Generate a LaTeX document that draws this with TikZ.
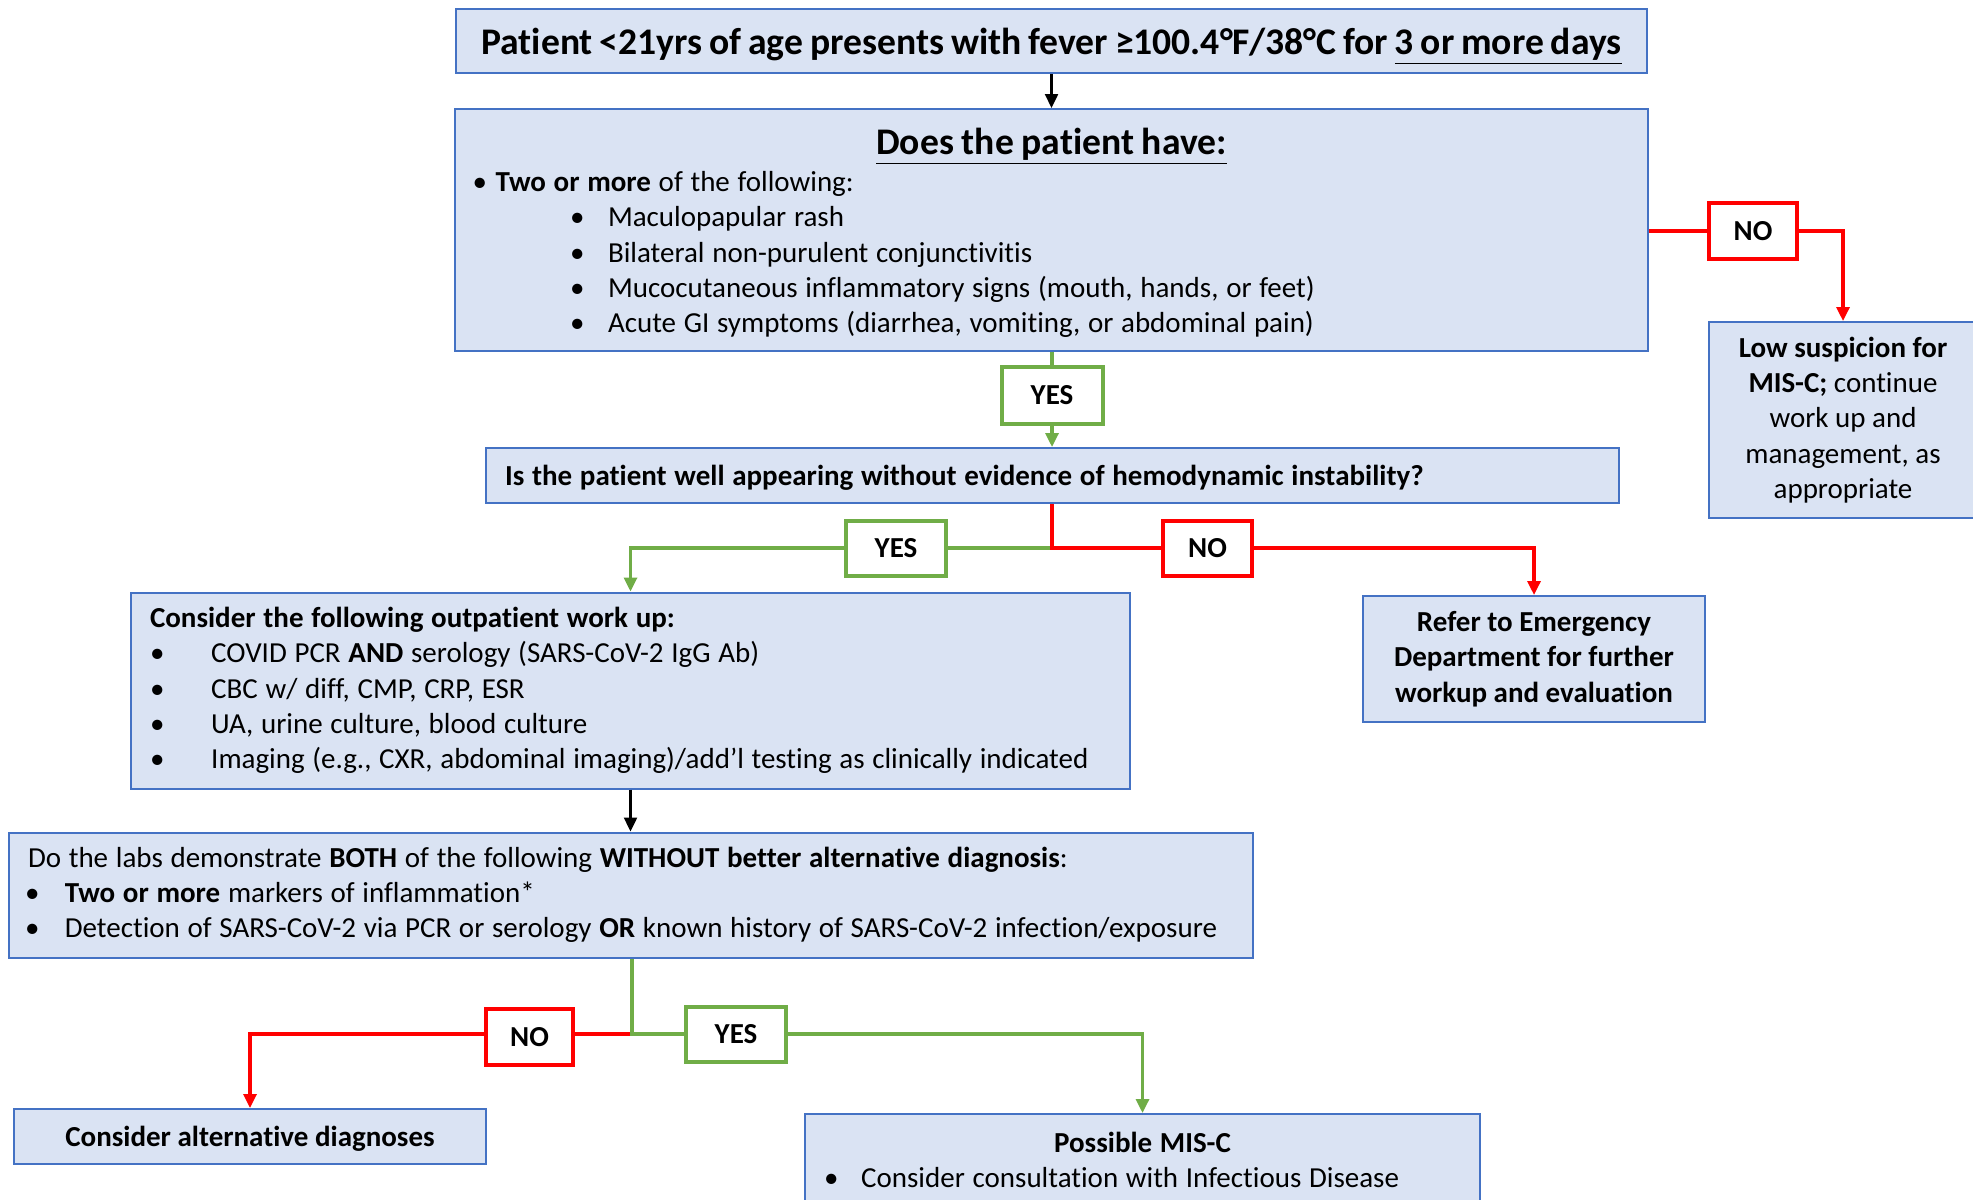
\documentclass[tikz,border=0pt]{standalone}
\usepackage{fontspec}
\setmainfont{Carlito}[Ligatures=NoCommon]
\usetikzlibrary{arrows.meta,calc}
\definecolor{boxfill}{HTML}{DAE3F3}
\definecolor{boxline}{HTML}{4472C4}
\definecolor{okgreen}{HTML}{70AD47}
\definecolor{nored}{HTML}{FF0000}
\newcommand{\bodyfont}{\fontsize{14.5}{17.6}\selectfont\frenchspacing}
\newcommand{\bigfont}{\fontsize{18.8}{21}\selectfont}
\newcommand{\itm}[2]{\hspace*{#1}\makebox[#2][l]{•}}
\newcommand{\tsp}{\spaceskip=3.85pt\relax\xspaceskip=3.85pt\relax}
\begin{document}
\begin{tikzpicture}[x=0.5pt,y=-0.5pt,
  box/.style={draw=boxline, fill=boxfill, line width=1pt, inner sep=0pt, font=\bodyfont},
  lbox/.style={box, inner xsep=9.5pt, align=left},
  cbox/.style={box, align=center},
  tag/.style={draw=#1, fill=white, line width=2pt, inner sep=0pt, font=\bodyfont\bfseries},
  blk/.style={draw=black, line width=1.2pt, -{Triangle[length=7pt,width=6.5pt]}},
  grn/.style={draw=okgreen, line width=1.6pt},
  rd/.style={draw=nored, line width=1.6pt},
  tip/.style={-{Triangle[length=7pt,width=6.5pt]}}
]
\useasboundingbox (0,0) rectangle (1973,1199);
\clip (0,0) rectangle (1973,1199);

% main boxes
\node[cbox, minimum width=595.5pt, minimum height=32pt, text depth=0pt, font=\bigfont\bfseries] (b1) at (1051.5,41)
  {\spaceskip=3.46pt\relax Patient <21yrs of age presents with fever ≥100.4°F/38°C for \underline{3 or more days}};

\node[lbox, text width=577.5pt, minimum width=596.5pt, minimum height=121pt] (b2) at (1051.5,230)
  {\tsp\makebox[\linewidth]{\rule{0pt}{16pt}\bigfont\bfseries\underline{Does the patient have:}}\\[0.9pt]
   \itm{-0.75pt}{11.5pt}\textbf{Two or more} of the following:\\
   \itm{48pt}{19pt}Maculopapular rash\\
   \itm{48pt}{19pt}Bilateral non-purulent conjunctivitis\\
   \itm{48pt}{19pt}Mucocutaneous inflammatory signs (mouth, hands, or feet)\\
   \itm{48pt}{19pt}Acute GI symptoms (diarrhea, vomiting, or abdominal pain)};

\node[cbox, minimum width=134pt, minimum height=98pt] (low) at (1843,420)
  {\textbf{Low suspicion for}\\\textbf{MIS-C;} continue\\work up and\\management, as\\appropriate};

\node[lbox, text width=547.5pt, minimum width=566.5pt, minimum height=27.5pt, text depth=0pt, font=\bodyfont\bfseries] (b3) at (1052.5,475.5)
  {\tsp Is the patient well appearing without evidence of hemodynamic instability?};

\node[lbox, text width=480.5pt, minimum width=499.5pt, minimum height=98pt] (b4) at (630.5,690.5)
  {\tsp\textbf{Consider the following outpatient work up:}\\
   \itm{0pt}{30.6pt}COVID PCR \textbf{AND} serology (SARS-CoV-2 IgG Ab)\\
   \itm{0pt}{30.6pt}CBC w/ diff, CMP, CRP, ESR\\
   \itm{0pt}{30.6pt}UA, urine culture, blood culture\\
   \itm{0pt}{30.6pt}Imaging (e.g., CXR, abdominal imaging)/add’l testing as clinically indicated};

\node[cbox, minimum width=171pt, minimum height=63pt, font=\bodyfont\bfseries] (b5) at (1534,659)
  {Refer to Emergency\\Department for further\\workup and evaluation};

\node[lbox, text width=603pt, minimum width=622pt, minimum height=62.5pt] (b6) at (631,895)
  {\tsp Do the labs demonstrate \textbf{BOTH} of the following \textbf{WITHOUT better alternative diagnosis}:\\
   \itm{-1.5pt}{19.9pt}\textbf{Two or more} markers of inflammation*\\
   \itm{-1.5pt}{19.9pt}Detection of SARS-CoV-2 via PCR or serology \textbf{OR} known history of SARS-CoV-2 infection/exposure};

\node[cbox, minimum width=236pt, minimum height=27.5pt, text depth=0pt, font=\bodyfont\bfseries] (b7) at (250,1136.5)
  {Consider alternative diagnoses};

\node[lbox, text width=318.5pt, minimum width=337.5pt, minimum height=46pt] (b8) at (1142.5,1160)
  {\tsp\makebox[\linewidth]{\bfseries Possible MIS-C}\\
   \itm{0pt}{18.6pt}Consider consultation with Infectious Disease};

% decision tags
\node[tag=okgreen, minimum width=50.5pt, minimum height=28.5pt] (yesA) at (1052,395.5) {YES};
\node[tag=nored, minimum width=44pt, minimum height=28pt] (noA) at (1753,231) {NO};
\node[tag=okgreen, minimum width=50pt, minimum height=27.5pt] (yesB) at (896,548) {YES};
\node[tag=nored, minimum width=44.5pt, minimum height=27.5pt] (noB) at (1207.5,548) {NO};
\node[tag=nored, minimum width=43.5pt, minimum height=28pt] (noC) at (529.5,1037) {NO};
\node[tag=okgreen, minimum width=50pt, minimum height=27.5pt] (yesC) at (736,1034) {YES};

\coordinate (j1) at (1052,548);
\coordinate (j2) at (632,1034);

% connectors
\draw[blk] (b1.south) -- (b2.north);
\draw[rd] (b2.east |- noA.west) -- (noA.west);
\draw[rd, tip] (noA.east) -| (low.north);
\draw[grn] (yesA.north |- b2.south) -- (yesA.north);
\draw[grn, tip] (yesA.south) -- (yesA.south |- b3.north);
\draw[grn] (j1) -- (yesB.east);
\draw[grn, tip] (yesB.west) -| (b4.north);
\draw[rd] (j1 |- b3.south) -- (j1) -- (noB.west);
\draw[rd, tip] (noB.east) -| (b5.north);
\draw[blk] (b4.south) -- (b4.south |- b6.north);
\draw[rd] (j2) -- (noC.east |- j2);
\draw[rd, tip] (noC.west |- j2) -| (b7.north);
\draw[grn] (j2 |- b6.south) -- (j2) -- (yesC.west);
\draw[grn, tip] (yesC.east) -| (b8.north);
\end{tikzpicture}
\end{document}
